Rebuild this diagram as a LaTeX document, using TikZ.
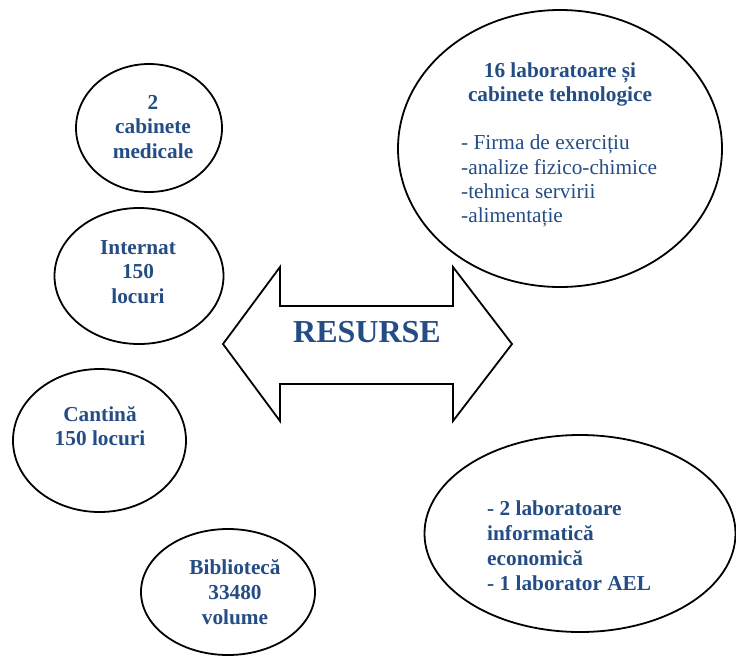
\documentclass[tikz,border=0pt]{standalone}
\usepackage{fontspec}
\setmainfont{Liberation Serif}
\usetikzlibrary{shapes.geometric}
\definecolor{txtblue}{RGB}{36,77,133}
\tikzset{
  ell/.style={draw=black, line width=1.8pt, ellipse, inner sep=0pt},
  btxt/.style={text=txtblue, font=\bfseries\fontsize{21.3}{24.7}\selectfont, align=center, inner sep=0pt},
  ltxt/.style={text=txtblue, font=\fontsize{21.3}{24.2}\selectfont, align=left, inner sep=0pt, anchor=west},
  bltxt/.style={text=txtblue, font=\bfseries\fontsize{21.3}{24.9}\selectfont, align=left, inner sep=0pt, anchor=west},
  arrowshape/.style={draw=black, line width=1.8pt, line join=miter, fill=white}
}
\begin{document}
\begin{tikzpicture}[x=1pt,y=-1pt]
\useasboundingbox[fill=white] (0,0) rectangle (736,657);

% ellipses
\node[ell, minimum width=146pt, minimum height=128pt] (med) at (149,128) {};
\node[ell, minimum width=169pt, minimum height=136pt] (int) at (139,276) {};
\node[ell, minimum width=173pt, minimum height=143pt] (cant) at (99.5,440.5) {};
\node[ell, minimum width=174pt, minimum height=126pt] (bib) at (228,592) {};
\node[ell, minimum width=324pt, minimum height=277pt] (lab) at (560,148.5) {};
\node[ell, minimum width=311pt, minimum height=197pt] (inf) at (580,533.5) {};

% double arrow
\coordinate (lt) at (223,344);
\coordinate (rt) at (512,344);
\draw[arrowshape] (lt) -- (280,267) -- (280,306) -- (453,306) -- (453,267)
  -- (rt) -- (453,421) -- (453,384) -- (280,384) -- (280,421) -- cycle;

% texts
\node[btxt] (tmed) at (153,127) {2\\cabinete\\medicale};
\node[btxt] (tint) at (138,272) {Internat\\150\\locuri};
\node[btxt] (tcant) at (100,426) {Cantină\\150 locuri};
\node[btxt] (tbib) at (235,592) {Bibliotecă\\33480\\volume};
\node[btxt] (tlabh) at (560,84.5) {16 laboratoare și\\cabinete tehnologice};
\node[ltxt] (tlabl) at (461,181) {- Firma de exercițiu\\-analize fizico-chimice\\-tehnica servirii\\-alimentație};
\node[bltxt] (tinf) at (487,545.5) {- 2 laboratoare\\informatică\\economică\\- 1 laborator AEL};
\node[text=txtblue, font=\bfseries\fontsize{32}{36}\selectfont, inner sep=0pt] (res) at (367,332) {RESURSE};
\end{tikzpicture}
\end{document}
